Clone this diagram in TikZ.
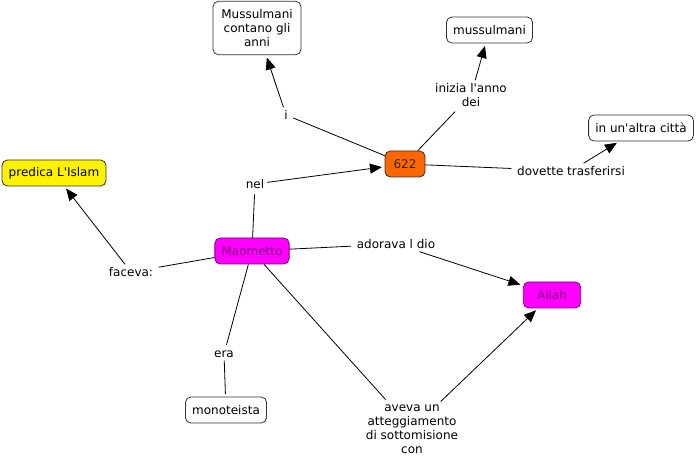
\documentclass[tikz,border=0pt]{standalone}
\usepackage{fontspec}
\setmainfont{DejaVu Sans}
\usetikzlibrary{arrows.meta}

\definecolor{orangeC}{HTML}{FF6600}
\definecolor{magC}{HTML}{FF00FF}
\definecolor{magText}{HTML}{7A007A}
\newcommand{\ap}{\textquotesingle}

\begin{document}
\begin{tikzpicture}[x=0.75pt, y=-0.75pt, font=\fontsize{9}{10.5}\selectfont,
concept/.style={draw=black!80, rounded corners=4pt, fill=white, minimum height=19.5pt, inner xsep=5pt, align=center},
linkword/.style={inner sep=2pt, align=center},
>={Triangle[length=9pt, width=7.5pt]}, shorten >=2pt, line width=0.6pt]
\useasboundingbox (0,0) rectangle (696,459);
% concepts
\node [concept, minimum width=66pt, minimum height=40pt] (musbox) at (257,28) {Mussulmani\\contano gli\\anni};
\node [concept] (mus) at (489.5,30) {mussulmani};
\node [concept] (citta) at (641,128) {in un\ap altra città};
\node [concept, fill=yellow] (islam) at (54,173) {predica L\ap Islam};
\node [concept, fill=orangeC, text=black!85, minimum width=30pt] (y622) at (405,164) {622};
\node [concept, fill=magC, draw=magText, text=magText] (mao) at (252,251) {Maometto};
\node [concept, fill=magC, draw=magText, text=magText, minimum width=43pt] (allah) at (552,295) {Allah};
\node [concept] (mono) at (226,410) {monoteista};
% linking words
\node [linkword] (i) at (286,115) {i};
\node [linkword] (inizia) at (471,95) {inizia l\ap anno\\dei};
\node [linkword] (nel) at (255,184) {nel};
\node [linkword] (dovette) at (571,171) {dovette trasferirsi};
\node [linkword] (faceva) at (131,272) {faceva:};
\node [linkword] (adorava) at (396,244) {adorava l dio};
\node [linkword] (era) at (224,354) {era};
\node [linkword] (aveva) at (412,429) {aveva un\\atteggiamento\\di sottomisione\\con};
% connections
\path (mao) edge (nel)
            edge (faceva)
            edge (adorava)
            edge (era)
            edge (aveva)
      (y622) edge (i)
             edge (inizia)
             edge (dovette)
      (era) edge (mono);
\path [->] (nel) edge (y622)
      (i) edge (musbox)
      (inizia) edge (mus)
      (dovette) edge (citta)
      (faceva) edge (islam)
      (adorava) edge (allah)
      (aveva) edge (allah);
\end{tikzpicture}
\end{document}
